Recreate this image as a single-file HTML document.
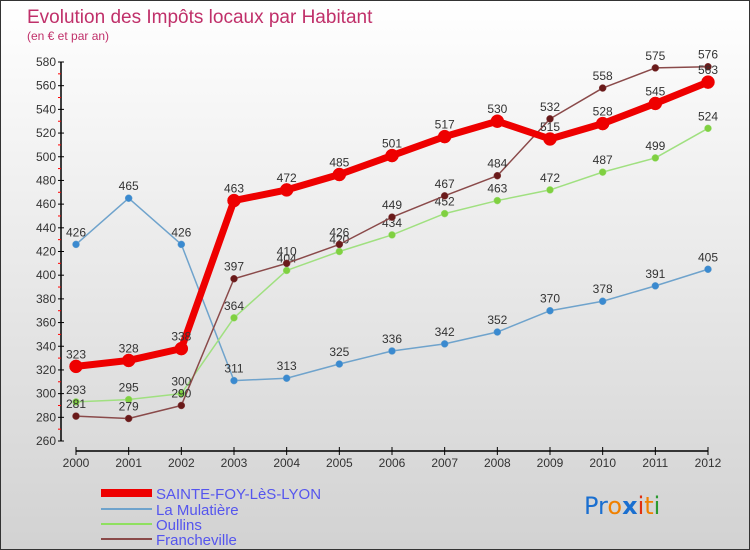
<!DOCTYPE html>
<html><head><meta charset="utf-8"><style>
body{margin:0;}
#c{position:relative;width:748px;height:548px;border:1px solid #333;background:linear-gradient(#ffffff,#d2d2d2);font-family:"Liberation Sans",sans-serif;overflow:hidden}
</style></head><body>
<div id="c">
<svg id="s" width="748" height="548" xmlns="http://www.w3.org/2000/svg">
<text x="26" y="22" font-size="19" fill="#c0306a">Evolution des Impôts locaux par Habitant</text>
<text x="26" y="39" font-size="12" fill="#c0306a">(en € et par an)</text>
<g id="axes"></g><g id="series"></g>
<g id="legend" font-size="15" fill="#5555ee">
<rect x="100" y="488" width="51" height="8" fill="#e00"/>
<text x="155" y="498">SAINTE-FOY-LèS-LYON</text>
<line x1="100" y1="508" x2="151" y2="508" stroke="#6fa3cc" stroke-width="2"/>
<text x="155" y="514">La Mulatière</text>
<line x1="100" y1="523" x2="151" y2="523" stroke="#8fe060" stroke-width="2"/>
<text x="155" y="529">Oullins</text>
<line x1="100" y1="538" x2="151" y2="538" stroke="#8a4a4a" stroke-width="2"/>
<text x="155" y="544">Francheville</text>
</g>
<g font-size="24" font-family="'DejaVu Sans',sans-serif">
<text x="583" y="513"><tspan fill="#1a6fd0">Pr</tspan><tspan fill="#f08000">o</tspan><tspan fill="#1a6fd0" font-weight="bold">x</tspan><tspan fill="#e03010">i</tspan><tspan fill="#f08000">t</tspan><tspan fill="#2a9a30">i</tspan></text>
</g>
</svg></div>
<script>
const years=[2000,2001,2002,2003,2004,2005,2006,2007,2008,2009,2010,2011,2012];
const yTicks=[260,280,300,320,340,360,380,400,420,440,460,480,500,520,540,560,580];
const sainteFoy=[323,328,338,463,472,485,501,517,530,515,528,545,563];
const mulatiere=[426,465,426,311,313,325,336,342,352,370,378,391,405];
const oullins=[293,295,300,364,404,420,434,452,463,472,487,499,524];
const francheville=[281,279,290,397,410,426,449,467,484,532,558,575,576];
const NS="http://www.w3.org/2000/svg";
const xS=i=>75+i*(707-75)/(years.length-1);
const yS=v=>440-(v-260)*(440-61)/320;
function mk(t,a,p){const e=document.createElementNS(NS,t);for(const k in a)e.setAttribute(k,a[k]);p.appendChild(e);return e;}
const ax=document.getElementById('axes');
let e=mk('line',{x1:60,y1:yS(580),x2:60,y2:yS(260),stroke:'#000','stroke-width':1.5},ax);


e=mk('line',{x1:75,y1:450,x2:707,y2:450,stroke:'#000','stroke-width':1.5},ax);


yTicks.forEach((v,i)=>{
 mk('line',{x1:57,y1:yS(v),x2:63,y2:yS(v),stroke:'#000'},ax);
 if(i<yTicks.length-1) mk('line',{x1:57,y1:yS(v+10),x2:60,y2:yS(v+10),stroke:'#f00'},ax);
 const t=mk('text',{x:55,y:yS(v)+4,'text-anchor':'end','font-size':12,fill:'#333'},ax);t.textContent=v;
 
 
});
years.forEach((y,i)=>{
 mk('line',{x1:xS(i),y1:446,x2:xS(i),y2:454,stroke:'#000'},ax);
 const t=mk('text',{x:xS(i),y:466,'text-anchor':'middle','font-size':12,fill:'#333'},ax);t.textContent=y;
 
 
});
const sg=document.getElementById('series');
function draw(d,name,col,w,r,dot){
 const g=mk('g',{},sg);
 
 
 mk('polyline',{points:d.map((v,i)=>xS(i)+','+yS(v)).join(' '),fill:'none',stroke:col,'stroke-width':w,'stroke-linejoin':'round'},g);
 d.forEach((v,i)=>{
  const c=mk('circle',{cx:xS(i),cy:yS(v),r:r,fill:dot,stroke:col,'stroke-width':0.5},g);
  
  
  const t=mk('text',{x:xS(i),y:yS(v)-8,'text-anchor':'middle','font-size':12,fill:'#333'},g);t.textContent=v;
  
  
 });
}
draw(mulatiere,'la-mulatiere','#6fa3cc',1.5,3.5,'#3a8ad0');
draw(oullins,'oullins','#a0e080',1.5,3.5,'#80d040');
draw(francheville,'francheville','#8a4a4a',1.5,3.5,'#6a1a1a');
draw(sainteFoy,'sainte-foy','#ee0000',7,6.5,'#ee0000');
</script>
</body></html>
